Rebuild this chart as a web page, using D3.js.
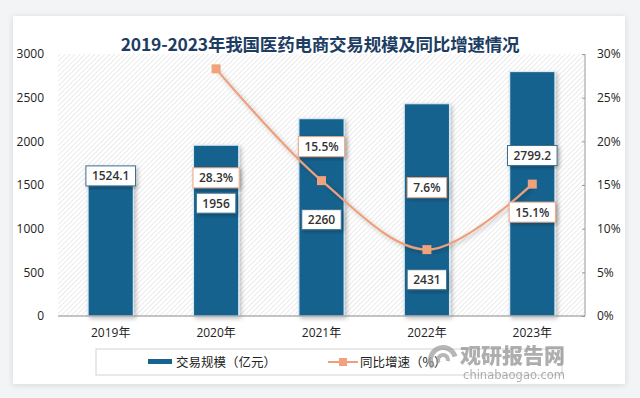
<!DOCTYPE html>
<html>
<head>
<meta charset="utf-8">
<script src="https://cdn.jsdelivr.net/npm/d3@7"></script>
<style>
  body { margin: 0; background: #f3f4f6; }
  svg { display: block; font-family: "Noto Sans", "Noto Sans CJK SC", sans-serif; }
</style>
</head>
<body>
<svg id="canvas"></svg>
<script>
let years = ["2019年", "2020年", "2021年", "2022年", "2023年"]
let scale = [1524.1, 1956, 2260, 2431, 2799.2]
let growth = [null, 28.3, 15.5, 7.6, 15.1]
let leftTicks = [0, 500, 1000, 1500, 2000, 2500, 3000]
let rightTicks = [0, 5, 10, 15, 20, 25, 30]

// label placement (px offsets from mark)
let barLabelDy = [-7, 58, 101, 176, 84]
let lineLabelDy = [0, 109, -34, -62, 28]

let width = 640
let height = 398
let plotL = 58, plotR = 585, plotT = 54, plotB = 316

let svg = d3.select("#canvas").attr("width", width).attr("height", height)

let defs = svg.append("defs")
let pat = defs.append("pattern").attr("id", "hatch").attr("patternUnits", "userSpaceOnUse")
    .attr("width", 3.5).attr("height", 3.5).attr("patternTransform", "rotate(45)")
pat.append("rect").attr("width", 3.5).attr("height", 3.5).attr("fill", "#ffffff")
pat.append("line").attr("x1", 0).attr("y1", 0).attr("x2", 0).attr("y2", 3.5)
    .attr("stroke", "#e4e4e4").attr("stroke-width", 1.4)
let sh = defs.append("filter").attr("id", "shadow").attr("x", "-20%").attr("y", "-20%").attr("width", "140%").attr("height", "140%")
sh.append("feDropShadow").attr("dx", 2).attr("dy", 2).attr("stdDeviation", 2).attr("flood-color", "#000").attr("flood-opacity", 0.25)
let cs = defs.append("filter").attr("id", "cardshadow").attr("x", "-5%").attr("y", "-5%").attr("width", "110%").attr("height", "110%")
cs.append("feDropShadow").attr("dx", 0).attr("dy", 1).attr("stdDeviation", 3).attr("flood-color", "#000").attr("flood-opacity", 0.12)

// card
svg.append("rect").attr("x", 13).attr("y", 16).attr("width", 612).attr("height", 368)
    .attr("fill", "#ffffff").attr("filter", "url(#cardshadow)")

svg.append("text").attr("x", 320).attr("y", 51).attr("text-anchor", "middle")
    .attr("font-family", "'Noto Sans CJK SC', sans-serif").attr("font-weight", "bold")
    .attr("font-size", 17.5).attr("fill", "#1d3d63").attr("letter-spacing", -0.2)
    .text("2019-2023年我国医药电商交易规模及同比增速情况")

let xScale = d3.scaleBand().domain(years).range([plotL, plotR]).paddingInner(0.57).paddingOuter(0.285)
let yLeft = d3.scaleLinear().domain([0, 3000]).range([plotB, plotT])
let yRight = d3.scaleLinear().domain([0, 30]).range([plotB, plotT])

svg.append("rect").attr("x", plotL).attr("y", plotT).attr("width", plotR - plotL).attr("height", plotB - plotT)
    .attr("fill", "url(#hatch)")

// axes
let yAxisL = svg.append("g").attr("transform", "translate(" + plotL + ",0)")
    .call(d3.axisLeft(yLeft).tickValues(leftTicks).tickSize(0).tickPadding(14).tickFormat(d3.format("d")))
yAxisL.select(".domain").remove()
yAxisL.selectAll("text").attr("font-size", 12).attr("fill", "#222").attr("font-family", "'Open Sans', sans-serif")

let yAxisR = svg.append("g").attr("transform", "translate(" + plotR + ",0)")
    .call(d3.axisRight(yRight).tickValues(rightTicks).tickSize(-3).tickPadding(12).tickFormat(d => d + "%"))
yAxisR.select(".domain").attr("stroke", "#9a9a9a").attr("d", "M0," + plotT + "V" + plotB)
yAxisR.selectAll("line").attr("stroke", "#9a9a9a")
yAxisR.selectAll("text").attr("font-size", 12).attr("fill", "#222").attr("font-family", "'Open Sans', sans-serif")

// bars
svg.selectAll(".bar").data(scale).enter().append("rect")
    .attr("class", "bar")
    .attr("x", (d, i) => xScale(years[i]))
    .attr("y", d => yLeft(d))
    .attr("width", xScale.bandwidth())
    .attr("height", d => plotB - yLeft(d))
    .attr("fill", "#17628e")
    .attr("stroke", "#d6eaf5").attr("stroke-width", 1.2)
    .attr("filter", "url(#shadow)")

let xAxis = svg.append("g").attr("transform", "translate(0," + plotB + ")")
    .call(d3.axisBottom(xScale).tickSize(0).tickPadding(12))
xAxis.select(".domain").attr("stroke", "#8a8a8a").attr("d", "M" + plotL + ",0H" + plotR)
xAxis.selectAll("text").attr("font-size", 12).attr("fill", "#222")
    .attr("font-family", "'Open Sans', 'Noto Sans CJK SC', sans-serif")

// growth line
let pts = growth.map((g, i) => ({ g, i })).filter(d => d.g !== null)
let cx = d => xScale(years[d.i]) + xScale.bandwidth() / 2
let line = d3.line().x(cx).y(d => yRight(d.g)).curve(d3.curveCatmullRom.alpha(0.5))
svg.append("path").datum(pts).attr("d", line).attr("fill", "none")
    .attr("stroke", "#eea07c").attr("stroke-width", 2.2).attr("filter", "url(#shadow)")
svg.selectAll(".mk").data(pts).enter().append("rect")
    .attr("x", d => cx(d) - 4.5).attr("y", d => yRight(d.g) - 4.5)
    .attr("width", 9).attr("height", 9).attr("fill", "#f0a27c")

// data labels
let drawLabel = (x, y, txt, border) => {
    let g = svg.append("g")
    let t = g.append("text").attr("x", x).attr("y", y + 4.5).attr("text-anchor", "middle")
        .attr("font-size", 12).attr("fill", "#333").attr("font-family", "'Open Sans', sans-serif")
        .attr("font-weight", 600).text(txt)
    let w = t.node().getComputedTextLength() + 12
    g.insert("rect", "text").attr("x", x - w / 2).attr("y", y - 10).attr("width", w).attr("height", 20)
        .attr("fill", "#ffffff").attr("stroke", border).attr("stroke-width", 1).attr("filter", "url(#shadow)")
}
scale.forEach((v, i) => {
    drawLabel(xScale(years[i]) + xScale.bandwidth() / 2, yLeft(v) + barLabelDy[i], String(v), "#3d6f8e")
})
pts.forEach(d => {
    drawLabel(cx(d), yRight(d.g) + lineLabelDy[d.i], d.g.toFixed(1) + "%", "#eaa888")
})

// legend
svg.append("rect").attr("x", 96).attr("y", 349).attr("width", 466).attr("height", 26)
    .attr("fill", "#fff").attr("stroke", "#d4d4d4")
svg.append("rect").attr("x", 148).attr("y", 359).attr("width", 24).attr("height", 5).attr("fill", "#17628e")
svg.append("text").attr("x", 176).attr("y", 367).attr("font-size", 12.5).attr("fill", "#222")
    .attr("font-family", "'Noto Sans CJK SC', sans-serif").text("交易规模（亿元）")
svg.append("line").attr("x1", 328).attr("x2", 358).attr("y1", 362).attr("y2", 362)
    .attr("stroke", "#eea07c").attr("stroke-width", 2)
svg.append("rect").attr("x", 339).attr("y", 358).attr("width", 8).attr("height", 8).attr("fill", "#f0a27c")
svg.append("text").attr("x", 360).attr("y", 367).attr("font-size", 12.5).attr("fill", "#222")
    .attr("font-family", "'Noto Sans CJK SC', sans-serif").text("同比增速（%）")

// watermark
let wm = svg.append("g").attr("opacity", 0.7)
wm.append("path").attr("d", d3.arc()({ innerRadius: 10, outerRadius: 15, startAngle: -2.2, endAngle: 1.3 }))
    .attr("transform", "translate(443,360)").attr("fill", "#999")
wm.append("path").attr("d", d3.arc()({ innerRadius: 3, outerRadius: 7, startAngle: -2.2, endAngle: 1.8 }))
    .attr("transform", "translate(443,360)").attr("fill", "#999")
wm.append("text").attr("x", 565).attr("y", 363).attr("text-anchor", "end")
    .attr("font-family", "'Noto Sans CJK SC', sans-serif").attr("font-weight", "900")
    .attr("font-size", 21).attr("fill", "#8c8c8c").text("观研报告网")
wm.append("text").attr("x", 565).attr("y", 379).attr("text-anchor", "end")
    .attr("font-family", "'DejaVu Sans', sans-serif").attr("font-size", 11.5)
    .attr("fill", "#8c8c8c").text("chinabaogao.com")
</script>
</body>
</html>
